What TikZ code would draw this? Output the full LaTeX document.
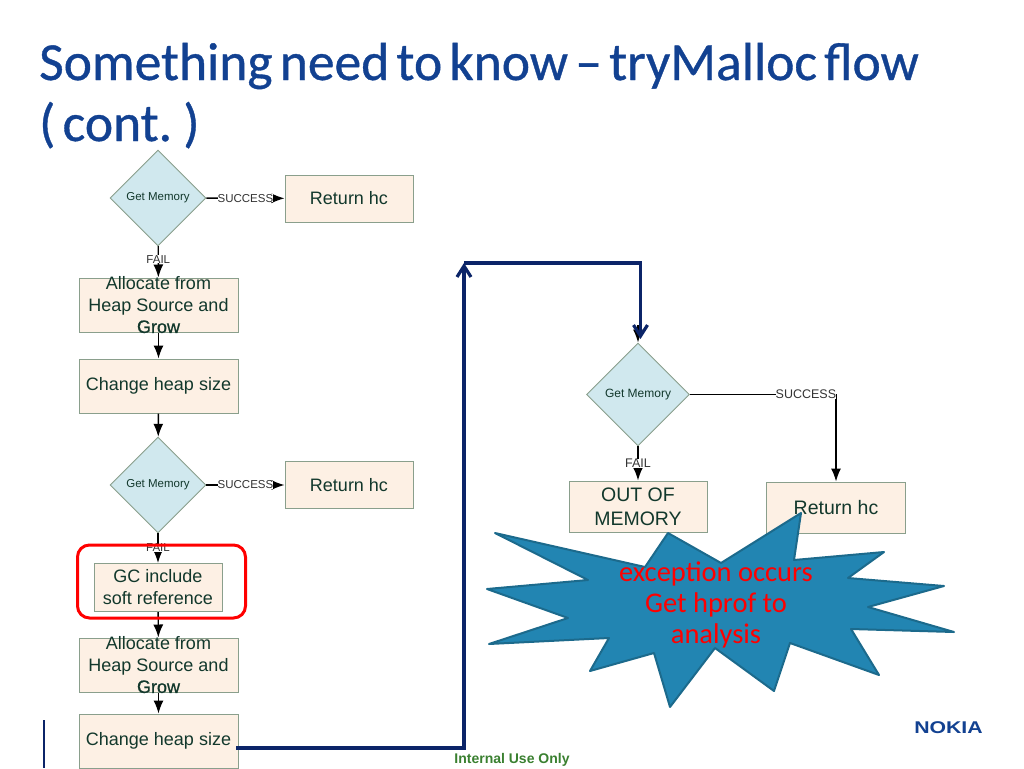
\documentclass[tikz,border=0pt]{standalone}
\usepackage{fontspec}
\setmainfont{Liberation Sans}
\newfontfamily\slidefont{Carlito}
\newfontfamily\titlefont[FakeBold=0.7,WordSpace=0.6]{Carlito}
\newfontfamily\growfont[FakeBold=0.8]{Liberation Sans}
\usepackage{tikz}
\usetikzlibrary{arrows.meta,shapes.geometric,positioning,calc}
\definecolor{boxfill}{HTML}{FDF0E4}
\definecolor{boxline}{HTML}{8A9F8C}
\definecolor{decfill}{HTML}{D0E8EE}
\definecolor{flowtext}{HTML}{12382C}
\definecolor{navyline}{HTML}{0B2468}
\definecolor{titleblue}{HTML}{124191}
\definecolor{starfill}{HTML}{2285B2}
\definecolor{starline}{HTML}{1C6A8C}
\definecolor{footgreen}{HTML}{3A8030}

\begin{document}
\begin{tikzpicture}[
    x=1pt, y=-1pt,
    proc/.style={draw=boxline, fill=boxfill, line width=1pt, inner sep=0pt, align=center, text=flowtext, font=\fontsize{18}{22}\selectfont},
    wide/.style={proc, minimum width=159pt, minimum height=54pt},
    ret/.style={proc, minimum width=128pt, minimum height=47pt},
    big/.style={proc, minimum width=138pt, minimum height=51pt, font=\fontsize{19.5}{24}\selectfont},
    dec/.style={draw=boxline, fill=decfill, diamond, aspect=1, inner sep=0pt, line width=0.9pt, text=flowtext, font=\fontsize{11.5}{13}\selectfont},
    lbl/.style={fill=white, inner sep=0pt, text=black!80, font=\fontsize{11.5}{14}\selectfont},
    arr/.style={-{Latex[length=13pt,width=10pt]}, line width=1.4pt},
    navyarr/.style={-{Straight Barb[length=11pt,width=14pt,line width=3.2pt]}, navyline, line width=3.4pt},
    proctext/.style={align=center, text=flowtext, inner sep=0pt, font=\fontsize{18}{21.5}\selectfont}
]
\useasboundingbox (0,0) rectangle (1024,768);

% title and footer
\node[anchor=base west, inner sep=0pt, text=titleblue, font=\titlefont\fontsize{53.5}{61}\selectfont] (title1) at (39,80) {Something need to know – tryMalloc flow};
\node[anchor=base west, inner sep=0pt, text=titleblue, font=\titlefont\fontsize{53.5}{61}\selectfont] (title2) at (39,141) {( cont. )};
\coordinate (footup) at (44,720);
\coordinate (footdown) at (44,768);
\draw[navyline, line width=1.2pt] (footup) -- (footdown);
\node[text=footgreen, inner sep=0pt, font=\bfseries\fontsize{14}{16}\selectfont] (internal) at (512,759.5) {Internal Use Only};
\node[text=titleblue, inner sep=0pt, xscale=1.25, font=\bfseries\fontsize{17}{17}\selectfont] (nokia) at (948.5,727.5) {NOKIA};

% left column
\node[dec, minimum size=96pt] (mem1) at (158,198) {Get Memory};
\node[ret] (ret1) at (349,198.5) {Return hc};
\node[wide, label={[proctext]center:{Allocate from\\Heap Source and\\{\growfont Grow}}}] (alloc1) at (158.5,305) {};
\node[wide] (heap1) at (158.5,386) {Change heap size};
\node[dec, minimum size=96pt] (mem2) at (158,485) {Get Memory};
\node[ret] (ret2) at (349,485) {Return hc};
\node[ret, minimum height=48pt] (gc) at (158,587.5) {GC include\\soft reference};
\node[wide, label={[proctext]center:{Allocate from\\Heap Source and\\{\growfont Grow}}}] (alloc2) at (158.5,665) {};
\node[wide] (heap2) at (158.5,741) {Change heap size};

% right column
\node[dec, minimum size=103pt, font=\fontsize{12}{14}\selectfont] (mem3) at (638,394.5) {Get Memory};
\node[big] (oom) at (638,506.5) {OUT OF\\MEMORY};
\node[big, minimum width=139pt] (ret3) at (836,507.5) {Return hc};

\draw[arr] (mem1) -- node[lbl, pos=0.5] {SUCCESS} (ret1);
\draw[arr] (mem1) -- node[lbl, pos=0.42] {FAIL} (alloc1);
\draw[arr] (alloc1) -- (heap1);
\draw[arr] (heap1) -- (mem2);
\draw[arr] (mem2) -- node[lbl, pos=0.5] {SUCCESS} (ret2);
\draw[arr] (mem2) -- node[lbl, pos=0.48] {FAIL} (gc);
\draw[arr] (gc) -- (alloc2);
\draw[arr] (alloc2) -- (heap2);
\draw[arr] (mem3.east) -| node[lbl, pos=0.397, font=\fontsize{12.5}{14}\selectfont] {SUCCESS} (ret3.north);
\draw[arr] (mem3) -- node[lbl, pos=0.5, font=\fontsize{12.5}{14}\selectfont] {FAIL} (oom);

% navy jump to the second column
\coordinate (navystart) at (236,748);
\coordinate (navyknee) at (464,748);
\coordinate (navyturn) at (464,263);
\coordinate (navytop) at (640.5,263);
\coordinate (navyend) at (640.5,339);
\coordinate (stubtop) at (638,325);
\draw[arr] (stubtop) -- (mem3.north);
\draw[navyarr] (navystart) -- (navyknee) -- (navyturn);
\draw[navyarr] (navyturn) -- (navytop) -- (navyend);

% red marker round the GC box
\node[draw=red, line width=3pt, rounded corners=12pt, minimum width=168pt, minimum height=73pt] (gcmark) at (161.5,581.5) {};

% burst
\draw[draw=starline, fill=starfill, line width=2pt, line join=round] (495,533) -- (645,567) -- (668,533) -- (721,563) -- (801,513) -- (794,560) -- (884,552) -- (848,578) -- (944,586) -- (868,607) -- (954,632) -- (851,629) -- (879,675) -- (790,643) -- (774,691) -- (715,648) -- (670,707) -- (654,653) -- (590,671) -- (609,638) -- (489,644) -- (568,618) -- (487,589) -- (588,580) -- cycle;
\node[align=center, text=red, inner sep=0pt, font=\slidefont\fontsize{28.5}{31}\selectfont] (burst) at (716,605) {exception occurs\\Get hprof to\\analysis};
\end{tikzpicture}
\end{document}
